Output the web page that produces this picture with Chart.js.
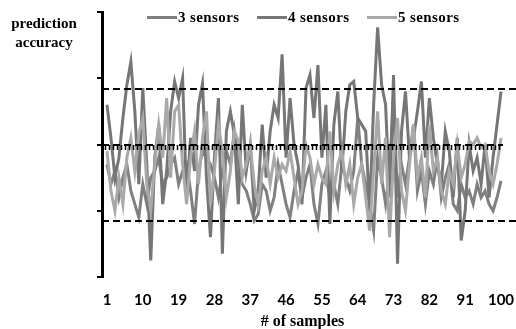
<!DOCTYPE html>
<html>
<head>
<meta charset="utf-8">
<script src="https://cdn.jsdelivr.net/npm/chart.js@4"></script>
<style>
html,body{margin:0;padding:0;background:#fff;}
#wrap{position:relative;width:516px;height:329px;}
canvas{position:absolute;left:0;top:0;}
.ytitle{position:absolute;left:0;width:88px;text-align:center;font:bold 15px "Liberation Serif",serif;color:#000;line-height:19px;top:14px;}
.leg{position:absolute;top:8px;font:bold 15px "Liberation Serif",serif;letter-spacing:0.4px;color:#000;white-space:nowrap;line-height:18px;}
.leg span.l{display:inline-block;width:30px;height:3px;vertical-align:middle;margin-right:1px;position:relative;top:-1px;}
</style>
</head>
<body>
<div id="wrap">
<canvas id="c" width="516" height="329"></canvas>
<div class="ytitle">prediction<br>accuracy</div>
<div id="legend"></div>
</div>
<script>
// ---- data ----
const samples = Array.from({length: 100}, (_, i) => i + 1);
const tickValues = [1, 10, 19, 28, 37, 46, 55, 64, 73, 82, 91, 100];
const seriesNames = ["3 sensors", "4 sensors", "5 sensors"];
const seriesColors = ["#808080", "#767676", "#a9a9a9"];
const refLines = [0.84, -1.15];
const axisLine = 0;

const sensors3 = [
-0.3,-0.6,-0.4,-0.8,-0.5,-0.3,-0.7,-0.9,-1.1,-0.6,
-0.9,-0.5,-0.4,-0.2,-0.6,-0.5,-0.3,-0.2,-0.6,-0.4,
-0.3,-0.7,-1.2,-0.4,-0.1,-0.2,-0.3,-0.5,-0.8,-0.4,
-0.1,-0.3,0.2,-0.3,-0.6,-0.7,-0.9,-1.15,-1.05,-0.6,
-0.7,-1.0,-0.8,-0.3,-0.6,-0.9,-1.1,-0.7,-0.4,-0.8,
-0.5,-0.3,-0.9,-1.2,-0.6,-0.4,-0.8,-0.6,-0.9,-0.3,
-0.5,-0.7,-0.4,0.4,-0.3,-0.6,-0.9,-1.3,-0.2,-0.5,
-0.9,-0.4,0.7,-0.8,-0.3,-0.6,-0.2,0.3,-0.7,-0.4,
-0.9,-0.4,-0.6,-0.2,-0.8,-0.5,-0.3,-0.9,-1.0,-0.6,
-0.8,-0.7,-0.9,-0.6,-0.8,-0.7,-0.9,-1.0,-0.8,-0.55];

const sensors4 = [
0.6,0.1,-0.5,-0.2,0.4,0.9,1.25,0.5,-0.6,0.85,
-0.3,-1.75,-0.2,0.3,-0.9,-0.4,0.5,0.95,0.7,1.0,
-0.8,0.1,-0.4,0.6,0.92,-0.5,-1.4,-0.2,0.7,-1.65,
0.2,0.5,0.15,-0.9,0.6,-0.4,0.0,-1.0,-0.7,0.3,
-0.5,0.2,0.6,0.4,1.36,-0.2,0.7,0.0,-0.3,-0.9,
0.85,1.05,0.4,1.2,-0.2,0.6,-1.2,0.3,0.8,-0.4,
0.5,0.9,0.95,0.4,0.3,0.2,-1.0,0.6,1.77,0.9,
0.6,-0.8,1.05,-1.8,0.2,0.8,-0.2,0.1,0.5,0.95,
-0.2,0.7,0.1,-0.3,-0.6,0.2,-0.1,-0.8,0.1,-1.45,
-1.0,0.0,-0.4,-0.2,-0.6,0.0,-0.8,-0.2,0.3,0.8];

const sensors5 = [
-0.1,-0.7,-1.0,-0.5,-0.9,-0.2,0.1,-0.4,0.15,0.4,
-0.6,-1.0,-0.3,0.3,-0.2,0.7,-0.5,0.5,0.6,-0.3,
-0.9,-0.2,0.2,-0.6,0.1,0.5,-0.9,-0.4,0.3,-0.1,
-0.8,-0.4,0.2,0.05,-0.5,-0.3,0.0,-0.6,-0.9,-0.4,
-0.2,-0.6,-0.2,-0.5,-0.3,-0.4,-0.1,-0.5,-0.9,-0.7,
0.0,-0.2,-0.6,-0.3,-0.5,-0.6,0.2,-0.7,-0.3,-0.1,
-0.6,-0.3,-0.9,-0.5,-0.3,-0.8,-1.3,-0.4,0.5,-0.6,
0.1,-1.4,-0.2,0.4,-0.7,-1.0,-0.3,0.3,-0.5,-0.2,
-0.8,0.3,-0.4,-0.2,-0.7,-0.9,-0.4,-0.6,0.0,-0.5,
-0.3,0.05,0.0,0.1,-0.05,0.0,-0.4,-0.6,-0.3,0.1];

const seriesData = [sensors3, sensors4, sensors5];

// ---- legend (HTML) ----
const legendX = [147, 257, 367];
const legendEl = document.getElementById('legend');
seriesNames.forEach((n, i) => {
  const d = document.createElement('div');
  d.className = 'leg';
  d.style.left = legendX[i] + 'px';
  d.innerHTML = '<span class="l" style="background:' + seriesColors[i] + '"></span>' + n;
  legendEl.appendChild(d);
});

// ---- plugin for reference lines and central axis ----
const refPlugin = {
  id: 'refPlugin',
  afterDatasetsDraw(chart) {
    const ctx = chart.ctx, x = chart.scales.x, y = chart.scales.y;
    const left = chart.chartArea.left;
    ctx.save();
    ctx.strokeStyle = '#000';
    ctx.lineWidth = 2;
    ctx.setLineDash([7, 4]);
    refLines.forEach(v => {
      const py = Math.round(y.getPixelForValue(v));
      ctx.beginPath(); ctx.moveTo(left, py); ctx.lineTo(chart.width, py); ctx.stroke();
    });
    // central axis with tick marks
    const ay = Math.round(y.getPixelForValue(axisLine));
    const lastX = x.getPixelForValue(samples[samples.length - 1]) + 2;
    ctx.beginPath(); ctx.moveTo(left, ay); ctx.lineTo(lastX, ay); ctx.stroke();
    ctx.setLineDash([]);
    ctx.lineWidth = 1.5;
    samples.forEach(s => {
      const px = Math.round(x.getPixelForValue(s - 0.5)) + 0.5;
      ctx.beginPath(); ctx.moveTo(px, ay); ctx.lineTo(px, ay + 5); ctx.stroke();
    });
    ctx.restore();
  }
};

new Chart(document.getElementById('c'), {
  type: 'line',
  data: {
    datasets: seriesData.map((d, i) => ({
      label: seriesNames[i],
      data: d.map((v, j) => ({ x: samples[j], y: v })),
      borderColor: seriesColors[i],
      backgroundColor: seriesColors[i],
      borderWidth: 3,
      pointRadius: 0,
      tension: 0,
      order: 3 - i
    }))
  },
  options: {
    responsive: false,
    animation: false,
    layout: { padding: { left: 96, right: 13, top: 12, bottom: 0 } },
    plugins: { legend: { display: false }, tooltip: { enabled: false } },
    scales: {
      x: {
        type: 'linear',
        min: -0.25,
        max: 100.5,
        grid: { display: false, drawTicks: false },
        border: { display: false },
        afterBuildTicks: s => { s.ticks = tickValues.map(v => ({ value: v })); },
        afterFit: s => { s.height = 52; s.paddingLeft = 0; s.paddingRight = 0; },
        ticks: {
          autoSkip: false,
          maxRotation: 0,
          padding: 14,
          color: '#000',
          font: { family: 'Lato', weight: 'bold', size: 15 },
          callback: v => String(v)
        },
        title: {
          display: true,
          text: '# of samples',
          color: '#000',
          font: { family: 'Liberation Serif', weight: 'bold', size: 16 },
          padding: { top: 0, bottom: -2 }
        }
      },
      y: {
        min: -2, max: 2,
        afterFit: s => { s.width = 6; },
        ticks: { display: false, stepSize: 1 },
        grid: { drawOnChartArea: false, drawTicks: true, tickLength: 5, color: '#000', lineWidth: 2 },
        border: { display: true, color: '#000', width: 3 }
      }
    }
  },
  plugins: [refPlugin]
});
</script>
</body>
</html>
